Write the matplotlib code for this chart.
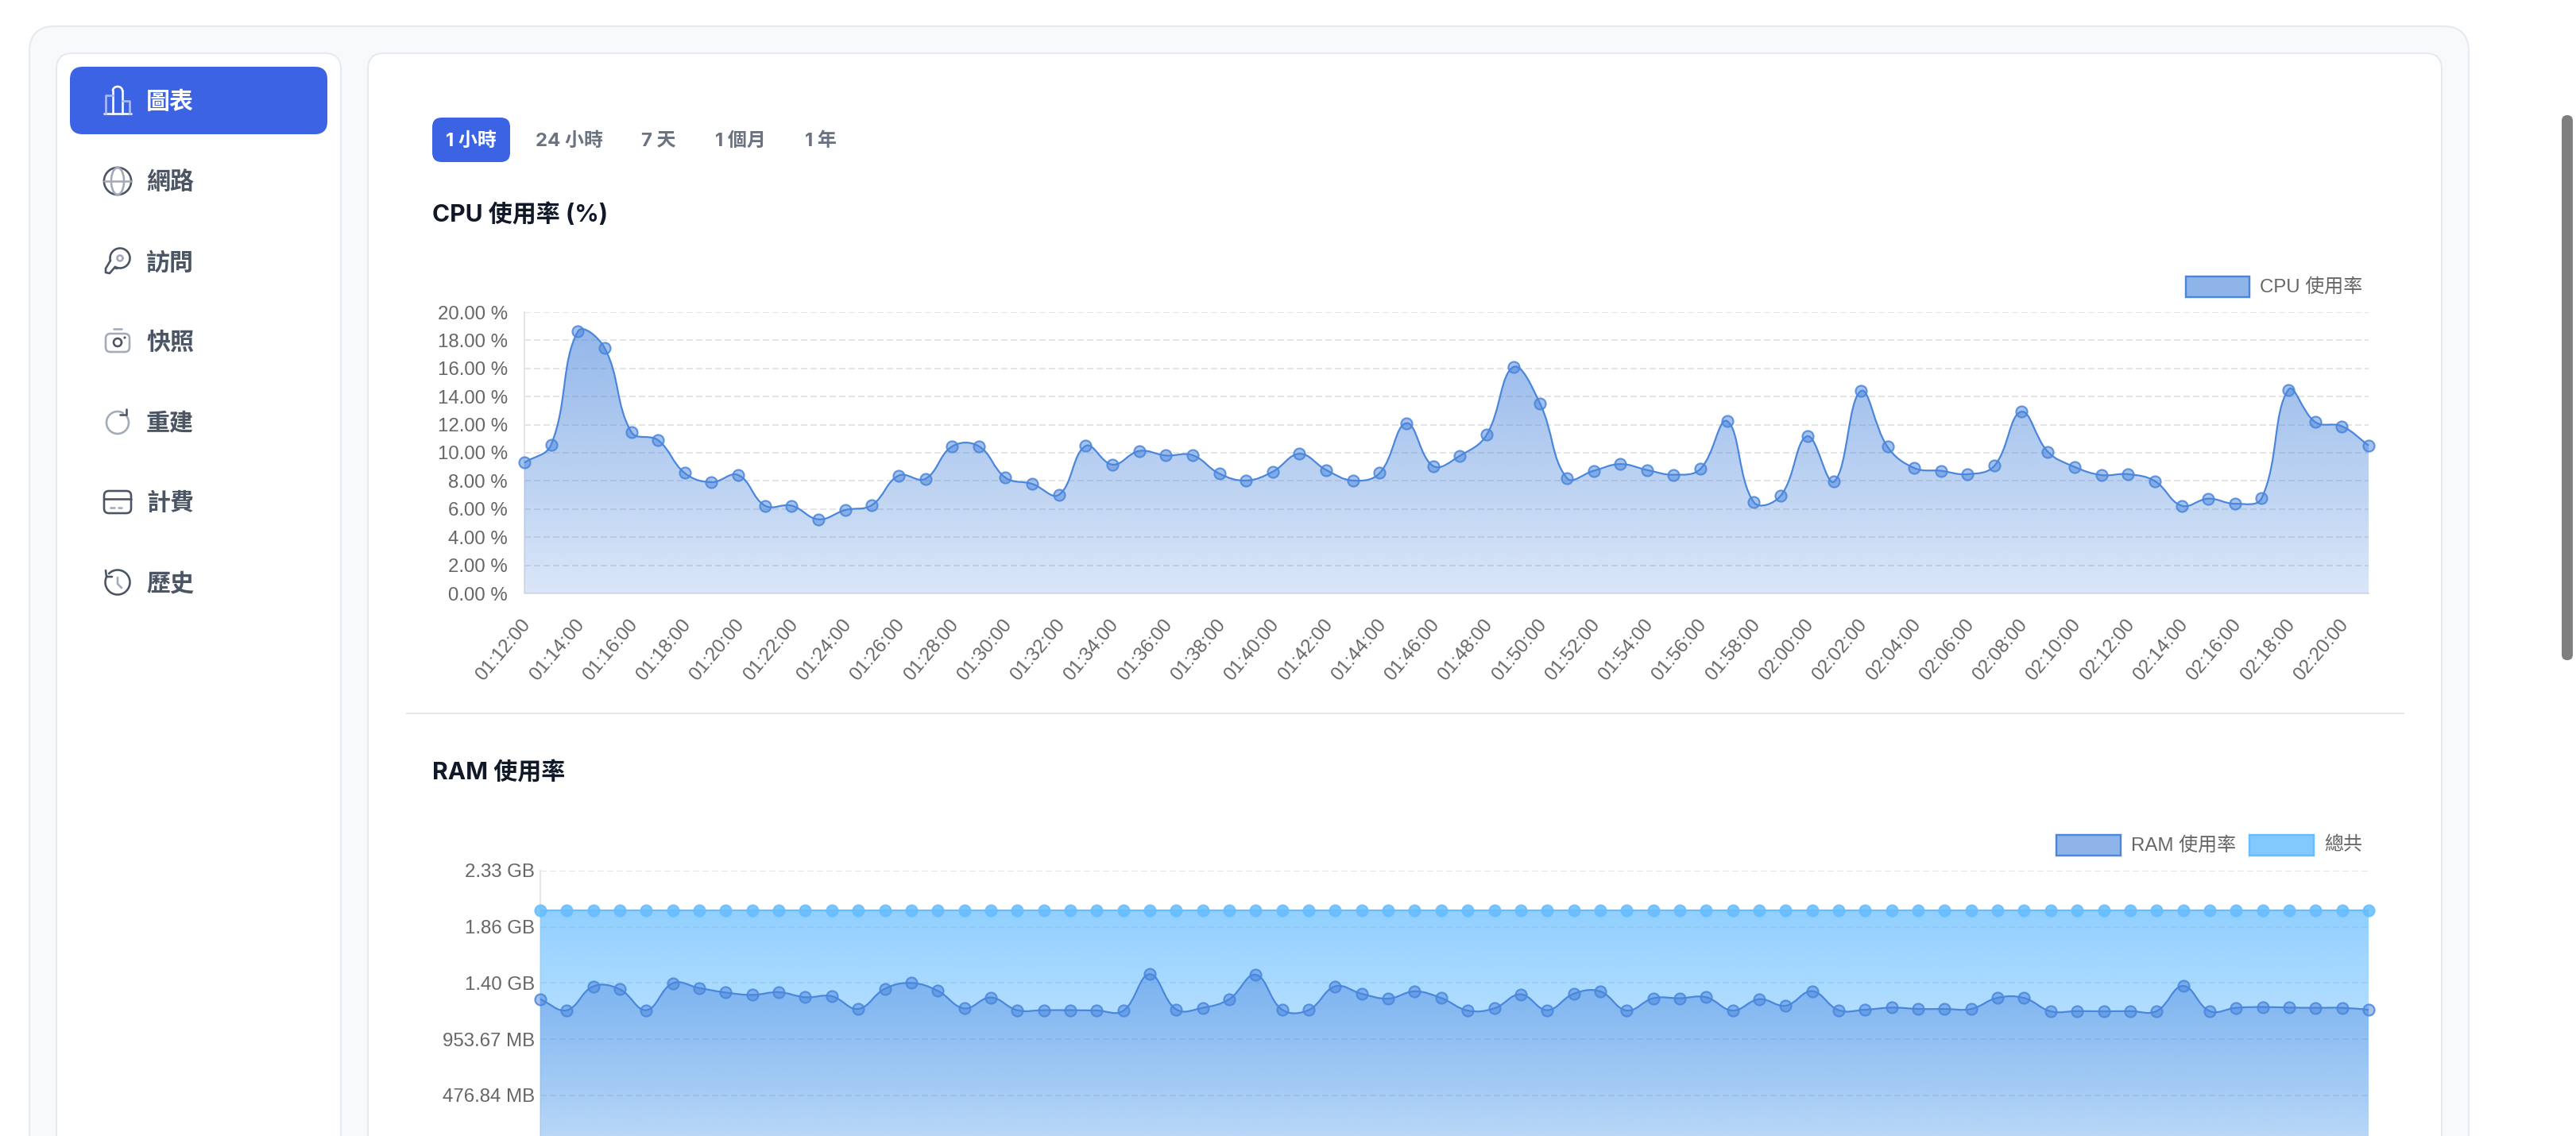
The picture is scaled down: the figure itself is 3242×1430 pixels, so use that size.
"""
Server monitor dashboard: CPU and RAM usage charts
"""
import matplotlib
matplotlib.use('Agg')
import matplotlib.pyplot as plt
from matplotlib.patches import FancyBboxPatch, Circle, PathPatch, Rectangle
from matplotlib.path import Path
from matplotlib.transforms import ScaledTranslation
import numpy as np

W, H = 3242, 1430

cpu_values = [9.30, 10.58, 18.63, 17.46, 11.48, 10.90, 8.56, 7.91, 8.42, 6.24,
              6.24, 5.27, 5.93, 6.28, 8.38, 8.15, 10.45, 10.47, 8.23, 7.79,
              7.02, 10.49, 9.16, 10.13, 9.81, 9.83, 8.52, 8.03, 8.66, 9.93,
              8.78, 8.03, 8.56, 12.11, 9.06, 9.79, 11.28, 16.10, 13.50, 8.21,
              8.72, 9.20, 8.78, 8.44, 8.86, 12.25, 6.48, 6.94, 11.18, 7.95,
              14.39, 10.43, 8.92, 8.72, 8.48, 9.08, 12.92, 10.07, 9.00, 8.42,
              8.48, 7.99, 6.24, 6.74, 6.38, 6.78, 14.49, 12.19, 11.89, 10.52]

# RAM in units of 1e9 bytes, the axis is labelled in binary units
ram_values = [1.357, 1.259, 1.471, 1.445, 1.259, 1.499, 1.456, 1.416, 1.395, 1.419,
              1.374, 1.383, 1.270, 1.449, 1.501, 1.431, 1.275, 1.372, 1.259, 1.259,
              1.259, 1.256, 1.254, 1.579, 1.266, 1.280, 1.357, 1.574, 1.263, 1.261,
              1.471, 1.405, 1.362, 1.426, 1.367, 1.256, 1.275, 1.400, 1.259, 1.405,
              1.426, 1.256, 1.365, 1.365, 1.374, 1.256, 1.357, 1.299, 1.428, 1.259,
              1.263, 1.282, 1.270, 1.270, 1.270, 1.369, 1.367, 1.249, 1.251, 1.249,
              1.251, 1.251, 1.475, 1.251, 1.280, 1.287, 1.282, 1.280, 1.280, 1.263]
ram_total = [2.147] * 70

cpu_ticks = [0, 2, 4, 6, 8, 10, 12, 14, 16, 18, 20]
cpu_tick_labels = ['0.00 %', '2.00 %', '4.00 %', '6.00 %', '8.00 %', '10.00 %',
                   '12.00 %', '14.00 %', '16.00 %', '18.00 %', '20.00 %']
ram_ticks = [0.5, 1.0, 1.5, 2.0, 2.5]
ram_tick_labels = ['476.84 MB', '953.67 MB', '1.40 GB', '1.86 GB', '2.33 GB']

time_labels = ['01:12:00', '01:14:00', '01:16:00', '01:18:00', '01:20:00', '01:22:00',
               '01:24:00', '01:26:00', '01:28:00', '01:30:00', '01:32:00', '01:34:00',
               '01:36:00', '01:38:00', '01:40:00', '01:42:00', '01:44:00', '01:46:00',
               '01:48:00', '01:50:00', '01:52:00', '01:54:00', '01:56:00', '01:58:00',
               '02:00:00', '02:02:00', '02:04:00', '02:06:00', '02:08:00', '02:10:00',
               '02:12:00', '02:14:00', '02:16:00', '02:18:00', '02:20:00']

menu_labels = ['圖表', '網路', '訪問', '快照', '重建', '計費', '歷史']
tab_labels = ['1 小時', '24 小時', '7 天', '1 個月', '1 年']

UI_FONT = ['Inter', 'Noto Sans CJK TC', 'DejaVu Sans']
CHART_FONT = ['Liberation Sans', 'Noto Sans CJK TC', 'DejaVu Sans']
BLUE = '#3b63e3'
LINE_BLUE = (74 / 255, 134 / 255, 220 / 255)
SKY = (102 / 255, 189 / 255, 255 / 255)
BORDER = '#e5e9f0'
DARK = '#4b5563'
LIGHT = '#a3abba'
GRID = '#e5e5e5'
TICK = '#666666'


def pt(px):
    return px * 0.72


def rbox(ax, x0, y0, x1, y1, r, fc, ec='none', lw=2, z=1):
    ax.add_patch(FancyBboxPatch((x0 + r, y0 + r), x1 - x0 - 2 * r, y1 - y0 - 2 * r,
                                boxstyle=f'round,pad={r},rounding_size={r}',
                                fc=fc, ec=ec, lw=pt(lw), zorder=z))


def stroke(ax, xs, ys, color, lw=2.6):
    ax.plot(xs, ys, color=color, lw=pt(lw), solid_capstyle='round', zorder=5)


def arc(ax, cx, cy, r, a0, a1, color, lw=2.6, rx=None):
    t = np.radians(np.linspace(a0, a1, 60))
    stroke(ax, cx + (rx or r) * np.cos(t), cy - r * np.sin(t), color, lw)


def icon_bars(ax, cx, cy):
    soft = '#a9bcf3'
    stroke(ax, [cx - 17, cx + 17], [cy + 16, cy + 16], 'white')
    stroke(ax, [cx - 6, cx - 6], [cy + 16, cy - 13], 'white')
    stroke(ax, [cx + 6, cx + 6], [cy + 16, cy - 13], 'white')
    arc(ax, cx, cy - 13, 5, 0, 180, 'white', rx=6)
    stroke(ax, [cx - 15, cx - 15, cx - 6], [cy + 16, cy - 7, cy - 7], soft)
    stroke(ax, [cx + 6, cx + 15, cx + 15], [cy - 0, cy - 0, cy + 16], soft)


def icon_globe(ax, cx, cy):
    arc(ax, cx, cy, 9 * 1.9, 0, 360, DARK)
    arc(ax, cx, cy, 17, 0, 360, LIGHT, rx=8)
    stroke(ax, [cx - 17, cx + 17], [cy, cy], LIGHT)


def icon_key(ax, cx, cy):
    arc(ax, cx + 3, cy - 4, 12.5, -120, 195, DARK)
    arc(ax, cx + 3, cy - 4, 3.5, 0, 360, LIGHT)
    stroke(ax, [cx - 9, cx - 15, cx - 15, cx - 10, cx - 4, cx - 1],
           [cy - 1, cy + 9, cy + 14, cy + 15, cy + 8, cy + 9], DARK)


def icon_camera(ax, cx, cy):
    rbox(ax, cx - 15, cy - 10, cx + 15, cy + 13, 6, 'none', LIGHT, 2.6, 5)
    stroke(ax, [cx - 5, cx + 5], [cy - 16, cy - 16], LIGHT)
    arc(ax, cx, cy + 1, 5, 0, 360, DARK)
    ax.add_patch(Circle((cx + 9, cy - 5), 1.6, fc=DARK, ec='none', zorder=5))


def icon_refresh(ax, cx, cy):
    arc(ax, cx, cy + 1, 14, 60, 395, LIGHT)
    stroke(ax, [cx + 11, cx + 11, cx + 3], [cy - 16, cy - 9, cy - 9], DARK)


def icon_card(ax, cx, cy):
    rbox(ax, cx - 17, cy - 14, cx + 17, cy + 14, 6, 'none', DARK, 2.6, 5)
    stroke(ax, [cx - 17, cx + 17], [cy - 4, cy - 4], DARK)
    stroke(ax, [cx - 9, cx - 4], [cy + 7, cy + 7], LIGHT)
    stroke(ax, [cx + 1, cx + 5], [cy + 7, cy + 7], LIGHT)


def icon_history(ax, cx, cy):
    arc(ax, cx, cy, 15.5, -210, 135, DARK)
    stroke(ax, [cx - 15, cx - 14, cx - 7], [cy - 15, cy - 7, cy - 7], DARK)
    stroke(ax, [cx, cx, cx + 5], [cy - 6, cy + 2, cy + 7], LIGHT)


def bezier_path(ax, xs, ys, tension=0.4):
    # same control points as a chart.js line with tension, worked out on screen
    p = ax.transData.transform(np.column_stack([xs, ys]))
    verts = [p[0]]
    for i in range(1, len(p)):
        prev2 = p[max(i - 2, 0)]
        a, b = p[i - 1], p[i]
        nxt = p[min(i + 1, len(p) - 1)]
        d_pa = np.hypot(*(a - prev2))
        d_ab = np.hypot(*(b - a))
        d_bn = np.hypot(*(nxt - b))
        s1 = d_ab / (d_pa + d_ab)
        s2 = d_ab / (d_ab + d_bn)
        c1 = a + tension * s1 * (b - prev2)
        c2 = b - tension * s2 * (nxt - a)
        verts += [c1, c2, b]
    verts = ax.transData.inverted().transform(np.array(verts))
    codes = [Path.MOVETO] + [Path.CURVE4] * (len(verts) - 1)
    return verts, codes


def draw_series(ax, xs, ys, color, a_top, a_bottom, top, dot_alpha=0.5):
    verts, codes = bezier_path(ax, xs, ys)
    area = np.vstack([verts, [[xs[-1], 0], [xs[0], 0], [xs[0], 0]]])
    area_codes = codes + [Path.LINETO, Path.LINETO, Path.CLOSEPOLY]
    rgba = np.zeros((256, 1, 4))
    rgba[..., :3] = color
    rgba[:, 0, 3] = np.linspace(a_top, a_bottom, 256)
    im = ax.imshow(rgba, extent=[xs[0], xs[-1], 0, top], aspect='auto', origin='upper',
                   interpolation='bilinear', zorder=1)
    clip = PathPatch(Path(area, area_codes), fc='none', ec='none', transform=ax.transData)
    ax.add_patch(clip)
    im.set_clip_path(clip)
    ax.add_patch(PathPatch(Path(verts, codes), fc='none', ec=color, lw=pt(2.2), zorder=3,
                           clip_on=False))
    ax.plot(xs, ys, ls='none', marker='o', ms=pt(14), mew=pt(2.2),
            mfc=color + (dot_alpha,), mec=color + (0.85,), zorder=4, clip_on=False)


def chart_axes(fig, left, right, top, bottom):
    ax = fig.add_axes([left / W, 1 - bottom / H, (right - left) / W, (bottom - top) / H])
    ax.set_facecolor('none')
    ax.set_zorder(2)
    for name in ('top', 'right'):
        ax.spines[name].set_visible(False)
    for name in ('left', 'bottom'):
        ax.spines[name].set_color(GRID)
        ax.spines[name].set_linewidth(pt(2))
        ax.spines[name].set_zorder(0.6)
    ax.grid(axis='y', color=GRID, lw=pt(2), dashes=(8 / 2, 4 / 2))
    ax.set_axisbelow(True)
    ax.tick_params(axis='both', length=0, colors=TICK, labelsize=pt(24))
    return ax


def legend_item(ax, x0, x1, y0, y1, text, color, alpha):
    ax.add_patch(Rectangle((x0, y0), x1 - x0, y1 - y0, fc=color + (alpha,), ec=color,
                           lw=pt(2.4), zorder=3))
    ax.text(x1 + 13, (y0 + y1) / 2, text, family=CHART_FONT, fontsize=pt(24), color=TICK,
            va='center', ha='left', zorder=3)


fig = plt.figure(figsize=(W / 100, H / 100), dpi=100, facecolor='white')
ui = fig.add_axes([0, 0, 1, 1])
ui.set_xlim(0, W)
ui.set_ylim(H, 0)
ui.axis('off')

# page frame, runs off the bottom of the screenshot
rbox(ui, 37, 33, 3107, H + 60, 32, '#f8f9fb', BORDER)
rbox(ui, 71, 67, 429, H + 60, 20, 'white', BORDER, z=2)
rbox(ui, 463, 67, 3073, H + 60, 20, 'white', BORDER, z=2)
rbox(ui, 88, 84, 412, 169, 16, BLUE, z=3)
rbox(ui, 3224, 145, 3238, 831, 7, '#7f7f7f', z=3)

# sidebar
menu_y = [129, 230, 331, 432, 533, 634, 735]
icon_y = [127, 228, 329, 430, 531, 632, 733]
icons = [icon_bars, icon_globe, icon_key, icon_camera, icon_refresh, icon_card, icon_history]
for i, (label, y, iy, icon) in enumerate(zip(menu_labels, menu_y, icon_y, icons)):
    ui.text(184, y, label, family=UI_FONT, fontsize=pt(30), fontweight='bold',
            color='white' if i == 0 else '#4b5563', va='center', ha='left', zorder=5)
    icon(ui, 148, iy)

# range tabs
rbox(ui, 544, 148, 642, 204, 12, BLUE, z=3)
tab_x = [593, 717, 829, 932, 1033]
for i, (label, x) in enumerate(zip(tab_labels, tab_x)):
    ui.text(x, 178, label, family=UI_FONT, fontsize=pt(24), fontweight='bold',
            color='white' if i == 0 else '#6b7280', va='center', ha='center', zorder=5)

ui.text(544, 270, 'CPU 使用率 (%)', family=UI_FONT, fontsize=pt(30), fontweight='bold',
        color='#111827', va='center', ha='left', zorder=5)
ui.text(544, 973, 'RAM 使用率', family=UI_FONT, fontsize=pt(30), fontweight='bold',
        color='#111827', va='center', ha='left', zorder=5)
ui.plot([512, 3025], [898, 898], color='#e5e7eb', lw=pt(2), zorder=3)

legend_item(ui, 2751, 2831, 348, 374, 'CPU 使用率', LINE_BLUE, 0.62)
legend_item(ui, 2588, 2669, 1051, 1077, 'RAM 使用率', LINE_BLUE, 0.62)
legend_item(ui, 2831, 2912, 1051, 1077, '總共', SKY, 0.82)

# cpu chart
x_points = np.arange(len(cpu_values))
ax1 = chart_axes(fig, 660, 2981, 393, 747)
ax1.set_xlim(0, len(cpu_values) - 1)
ax1.set_ylim(0, 20)
draw_series(ax1, x_points, cpu_values, LINE_BLUE, 0.62, 0.2, 20)
ax1.set_xlim(0, len(cpu_values) - 1)
ax1.set_ylim(0, 20)
ax1.set_yticks(cpu_ticks)
ax1.set_yticklabels(cpu_tick_labels)
ax1.set_xticks(x_points[::2])
ax1.set_xticklabels(time_labels, rotation=50, ha='right', va='center', rotation_mode='anchor')
ax1.tick_params(axis='x', pad=pt(36))
ax1.tick_params(axis='y', pad=pt(21))

# ram chart, zero sits just below the screenshot edge
ax2 = chart_axes(fig, 680, 2981, 1096, 1449.75)
ax2.set_xlim(0, len(ram_values) - 1)
ax2.set_ylim(0, 2.5)
draw_series(ax2, x_points, ram_total, SKY, 0.8, 0.22, 2.5, dot_alpha=0.85)
draw_series(ax2, x_points, ram_values, LINE_BLUE, 0.6, 0.2, 2.5)
ax2.set_xlim(0, len(ram_values) - 1)
ax2.set_ylim(0, 2.5)
ax2.set_yticks(ram_ticks)
ax2.set_yticklabels(ram_tick_labels)
ax2.set_xticks([])
ax2.tick_params(axis='y', pad=pt(7))

for ax in (ax1, ax2):
    for label in ax.get_yticklabels():
        label.set_family(CHART_FONT)
shift = ScaledTranslation(4 / 100, 0, fig.dpi_scale_trans)
for label in ax1.get_xticklabels():
    label.set_family(CHART_FONT)
    label.set_transform(label.get_transform() + shift)

fig.savefig('out.png', dpi=100, facecolor='white')
